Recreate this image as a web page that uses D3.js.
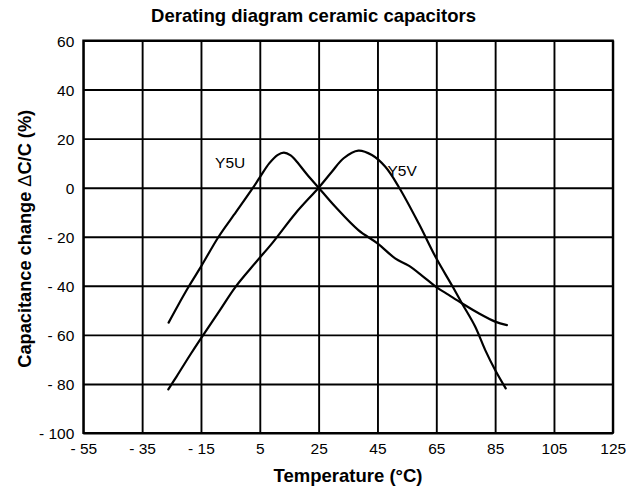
<!DOCTYPE html>
<html>
<head>
<meta charset="utf-8">
<script src="https://d3js.org/d3.v7.min.js"></script>
<style>
	body { margin: 0; background: #fff; }
	text { font-family: "Liberation Sans", Arial, sans-serif; fill: #000; }
</style>
</head>
<body>
<div id="chart-area"></div>
<script>
// Derating diagram ceramic capacitors

//= data: [temperature, change %]
var y5u = [[-26,-55],[-23,-48.4],[-19,-40],[-15,-32.2],[-9,-20],[-3,-9.8],[2.7,0],[5,4.2],
	[8.2,9.9],[11,13.3],[13.2,14.3],[15.5,13.2],[17.1,11.3],[21,5.5],[25,0],[30.6,-7.7],
	[38.5,-17.3],[45,-22.7],[51,-28.8],[55.6,-31.8],[60.1,-35.8],[65,-40.5],[69.2,-43.7],
	[73.7,-47.1],[79.4,-51.2],[85,-54.6],[89,-56]];
var y5v = [[-26.1,-82.2],[-23.3,-77],[-18.7,-68.2],[-15,-61.4],[-8.6,-50],[-3.3,-40.5],
	[3.6,-30.5],[9.3,-22.5],[17.1,-10.5],[25,0],[29.5,6.5],[33.5,12],[38.5,15.1],[43.1,13.3],
	[47.6,8.6],[52.2,0.4],[59,-14.5],[65,-28.8],[70.4,-40],[73.7,-47.1],[78.2,-56.6],
	[81.6,-66.1],[85,-74.3],[88.6,-81.8]];
var seriesNames = ["Y5U", "Y5V"];
var xTicks = [-55, -35, -15, 5, 25, 45, 65, 85, 105, 125];
var yTicks = [60, 40, 20, 0, -20, -40, -60, -80, -100];
//= where the curve names sit, in data units
var labelAt = [[-10.2, 7.9], [48.4, 4.9]];

var completeWidth = 637,
	completeHeight = 487;
var margin = { left: 83.3, right: 24.2, top: 40.5, bottom: 54 };
var width = completeWidth - margin.left - margin.right,
	height = completeHeight - margin.top - margin.bottom;

var svg = d3.select("#chart-area")
	.append("svg")
		.attr("width", completeWidth)
		.attr("height", completeHeight);
var g = svg.append("g")
	.attr("transform", "translate(" + margin.left + "," + margin.top + ")");

// Scales
var x = d3.scaleLinear().domain([-55, 125]).range([0, width]);
var y = d3.scaleLinear().domain([-100, 60]).range([height, 0]);

// minus sign written as "- 55"
function fmt(d) { return d < 0 ? "- " + Math.abs(d) : String(d); }

// Grid (axes with full-length ticks)
var xAxisCall = d3.axisBottom(x).tickValues(xTicks).tickSize(-height).tickFormat(fmt).tickPadding(0);
var yAxisCall = d3.axisLeft(y).tickValues(yTicks).tickSize(-width).tickFormat(fmt).tickPadding(0);

var xAxis = g.append("g")
	.attr("class", "x axis")
	.attr("transform", "translate(0," + height + ")")
	.call(xAxisCall);
var yAxis = g.append("g")
	.attr("class", "y axis")
	.call(yAxisCall);

[xAxis, yAxis].forEach(function(a) {
	a.select(".domain").remove();
	a.selectAll(".tick line").attr("stroke", "#000").attr("stroke-width", 1.9);
	a.selectAll(".tick text")
		.attr("font-family", "Liberation Sans, Arial, sans-serif")
		.attr("font-size", "15.5px")
		.attr("fill", "#000");
});
xAxis.selectAll(".tick text").attr("y", 20.5).attr("dy", 0);
yAxis.selectAll(".tick text").attr("x", -9).attr("dy", "0.36em");

// Frame
g.append("rect")
	.attr("width", width)
	.attr("height", height)
	.attr("fill", "none")
	.attr("stroke", "#000")
	.attr("stroke-width", 2);

// Curves
var line = d3.line()
	.x(function(d) { return x(d[0]); })
	.y(function(d) { return y(d[1]); })
	.curve(d3.curveCatmullRom);

[y5u, y5v].forEach(function(s) {
	g.append("path")
		.datum(s)
		.attr("fill", "none")
		.attr("stroke", "#000")
		.attr("stroke-width", 2.2)
		.attr("stroke-linejoin", "round")
		.attr("stroke-linecap", "round")
		.attr("d", line);
});

seriesNames.forEach(function(n, i) {
	g.append("text")
		.attr("x", x(labelAt[i][0]))
		.attr("y", y(labelAt[i][1]))
		.attr("font-size", "15.5px")
		.attr("fill", "#222")
		.text(n);
});

// Labels
svg.append("text")
	.attr("x", 313.5)
	.attr("y", 21.7)
	.attr("font-size", "18.5px")
	.attr("font-weight", "bold")
	.attr("text-anchor", "middle")
	.text("Derating diagram ceramic capacitors");

svg.append("text")
	.attr("x", margin.left + width / 2)
	.attr("y", 482)
	.attr("font-size", "18.5px")
	.attr("font-weight", "bold")
	.attr("text-anchor", "middle")
	.text("Temperature (°C)");

var yLabel = svg.append("text")
	.attr("transform", "translate(31," + (margin.top + height / 2 + 2) + ") rotate(-90)")
	.attr("font-size", "18.2px")
	.attr("font-weight", "bold")
	.attr("text-anchor", "middle");
yLabel.append("tspan").text("Capacitance change ");
yLabel.append("tspan").attr("font-weight", "normal").text("Δ");
yLabel.append("tspan").text("C/C (%)");
</script>
</body>
</html>
